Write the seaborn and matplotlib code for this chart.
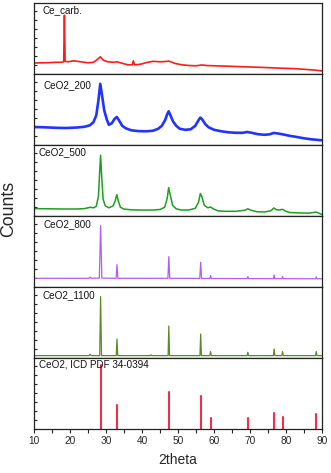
import numpy as np
import pandas as pd
import matplotlib
matplotlib.use("Agg")
import matplotlib.pyplot as plt
from matplotlib.ticker import MultipleLocator
import seaborn as sns

# ---------------- data (arbitrary count units) ----------------
carb_x = [10, 12, 14, 16, 17.5, 18.25, 18.45, 18.65, 19.5, 21, 23, 25, 26.5, 27.5, 28.4, 29.3, 30.5,
          32, 33, 34.5, 36, 37.3, 37.6, 37.9, 39.5, 41, 43, 45, 46.5, 47.5, 49, 51, 53, 55, 56.5,
          58, 60, 63, 66, 70, 74, 78, 82, 85, 88, 90]
carb_y = [11.3, 11.5, 11.6, 12, 12, 12.5, 59, 13, 12.5, 13.5, 12.5, 11.5, 12, 14.5, 17.5, 14, 12.5,
          12, 12.5, 11, 9.5, 9.5, 13.5, 9.5, 10, 11.5, 13, 12.5, 12.8, 13.2, 11, 9.5, 8.8, 8.5, 9.3,
          8.8, 8.5, 8.2, 7.8, 7.3, 6.8, 6.2, 5.7, 5.0, 4.2, 3.3]

c200_x = [10, 13, 16, 19, 22, 24, 25.5, 26.5, 27.3, 27.9, 28.4, 28.9, 29.5, 30.2, 30.8, 31.6, 32.4,
          33.0, 33.6, 34.5, 35.5, 37, 39, 41, 43, 44.5, 45.5, 46.4, 47.0, 47.4, 47.9, 48.6, 49.5, 50.5,
          52, 53.5, 54.8, 55.6, 56.2, 56.7, 57.5, 58.5, 60, 62, 64, 66, 68, 69.2, 70.5, 72, 74, 75.5,
          76.5, 77.5, 79, 81, 83, 85, 87, 90]
c200_y = [18.3, 18, 17.5, 17.3, 17.8, 18.5, 20, 23, 30, 45, 61.5, 50, 35, 26, 20.5, 22, 26.5,
          28.3, 25, 19.5, 17, 15, 14.2, 14, 14.5, 16.5, 19.5, 25, 31, 34, 30, 24, 19.5, 16.5,
          15.5, 16, 19.5, 24.5, 27.7, 26, 21.5, 18, 15.5, 14, 13, 12.5, 12.5, 13.3, 12.5, 11.2, 10.5, 11,
          12.3, 12, 11, 9.5, 8.3, 7, 6, 5]

c500_x = [10, 14, 18, 22, 24, 25.6, 26.5, 27.3, 27.9, 28.25, 28.5, 28.8, 29.2, 29.8, 30.8, 32.0, 32.6,
          33.0, 33.4, 34.0, 35, 37, 40, 43, 45, 46.3, 47.0, 47.4, 47.8, 48.5, 49.5, 51, 53, 54.8, 55.7,
          56.2, 56.6, 57.3, 58.3, 59.0, 59.8, 61, 63, 66, 68.5, 69.4, 70.3, 72, 74, 75.8, 76.6, 77.4,
          78.3, 79.0, 79.7, 81, 84, 86.5, 88.4, 89.3, 90]
c500_y = [7.7, 7.5, 7.3, 7.3, 7.7, 9, 8.5, 10, 20, 45, 61, 40, 17, 10.5, 8.5, 10.5, 16,
          21.7, 15.5, 9, 7.2, 6.5, 6.2, 6.3, 6.8, 9, 18, 28.7, 22, 11, 7.5, 6.2, 6.3, 8, 14,
          22.7, 20, 11, 8.5, 9.3, 7.5, 5.5, 5, 5, 6, 7.5, 6, 4.5, 4.3, 5.5, 8.3, 6.5,
          6.3, 7, 5.5, 3.8, 3.3, 3.2, 4.2, 2.8, 1.8]

c800_x = [10, 20, 25.3, 25.6, 25.9, 28.15, 28.5, 28.85, 32.8, 33.05, 33.3, 42, 47.2, 47.45, 47.7,
          56.05, 56.3, 56.55, 58.85, 59.05, 59.25, 69.2, 69.4, 69.6, 76.5, 76.7, 76.9,
          78.85, 79.05, 79.25, 88.2, 88.4, 88.6, 90]
c800_y = [9, 9, 9, 10.3, 9, 9.2, 61.7, 9.2, 9, 22.7, 9, 9, 9, 30.7, 9,
          8.9, 25, 8.9, 8.8, 11.7, 8.8, 8.7, 10.7, 8.7, 8.6, 12.3, 8.6,
          8.6, 10.7, 8.6, 8.5, 10.3, 8.5, 8.5]

c1100_x = [10, 20, 25.3, 25.6, 25.9, 28.25, 28.5, 28.75, 32.85, 33.05, 33.25, 42.3, 42.5, 42.7,
           47.25, 47.45, 47.65, 56.1, 56.3, 56.5, 58.85, 59.05, 59.25, 69.2, 69.4, 69.6,
           76.5, 76.7, 76.9, 78.85, 79.05, 79.25, 88.2, 88.4, 88.6, 90]
c1100_y = [2.7, 2.7, 2.7, 4, 2.7, 2.7, 61.7, 2.7, 2.7, 19.3, 2.7, 2.7, 3.5, 2.7,
           2.7, 32.3, 2.7, 2.7, 24.3, 2.7, 2.7, 6.7, 2.7, 2.7, 6, 2.7,
           2.7, 9.3, 2.7, 2.7, 6.7, 2.7, 2.7, 6.7, 2.7, 2.7]

ref_pos = [28.55, 33.08, 47.48, 56.34, 59.09, 69.40, 76.70, 79.07, 88.41]
ref_int = [64, 24, 37, 33, 11.6, 11.6, 16.6, 12, 15]

labels = ["Ce_carb.", "CeO2_200", "CeO2_500", "CeO2_800", "CeO2_1100", "CeO2, ICD PDF 34-0394"]
x_ticks = [10, 20, 30, 40, 50, 60, 70, 80, 90]

# ---------------- style ----------------
sns.set_style("white")
plt.rcParams["font.family"] = ["Liberation Sans", "DejaVu Sans"]
plt.rcParams["axes.linewidth"] = 0.9
plt.rcParams["axes.edgecolor"] = "#222222"

W, H = 331, 473
fig, axes = plt.subplots(6, 1, figsize=(W / 100, H / 100), dpi=100, sharex=True,
                         gridspec_kw=dict(hspace=0))
fig.subplots_adjust(left=34 / W, right=322 / W, top=1 - 3.3 / H, bottom=1 - 429.3 / H)

series = [
    (carb_x, carb_y, "#ff1c1c", 1.2),
    (c200_x, c200_y, "#2233ff", 1.9),
    (c500_x, c500_y, "#1f9e1f", 1.1),
    (c800_x, c800_y, "#b35cf0", 0.9),
    (c1100_x, c1100_y, "#5b8a22", 0.9),
]

for ax, (xs, ys, col, lw) in zip(axes[:5], series):
    df = pd.DataFrame({"x": xs, "y": ys})
    sns.lineplot(data=df, x="x", y="y", ax=ax, color=col, lw=lw, estimator=None, sort=False)

# reference sticks
stick_df = pd.DataFrame({
    "x": [p for p in ref_pos for _ in range(2)],
    "y": [v for h in ref_int for v in (0, h)],
    "id": [i for i in range(len(ref_pos)) for _ in range(2)],
})
sns.lineplot(data=stick_df, x="x", y="y", units="id", estimator=None, ax=axes[5],
             color="#f52c4c", lw=1.5, sort=False)

label_pos = [(0.031, 0.906), (0.032, 0.845), (0.017, 0.897), (0.032, 0.887), (0.03, 0.887), (0.017, 0.915)]
for ax, lab, (lx, ly) in zip(axes, labels, label_pos):
    ax.set_xlim(10, 90)
    ax.set_ylim(0, 71)
    ax.set_xlabel("")
    ax.set_ylabel("")
    ax.yaxis.set_major_locator(MultipleLocator(9))
    ax.tick_params(axis="y", which="both", direction="in", left=True, right=False,
                   labelleft=False, length=2.5, width=0.8, color="#222222")
    ax.tick_params(axis="x", which="both", bottom=False, top=False, labelbottom=False)
    ax.text(lx, ly, lab, transform=ax.transAxes, ha="left", va="center", fontsize=7.1, color="#111111")

axb = axes[5]
axb.set_xticks(x_ticks)
axb.xaxis.set_minor_locator(MultipleLocator(5))
axb.tick_params(axis="x", which="both", bottom=True, labelbottom=True, direction="out",
                length=3, width=0.8, labelsize=7.3, pad=2, color="#222222")
axb.set_xlabel("2theta", fontsize=10, labelpad=5)
fig.text(9 / W, 1 - 209 / H, "Counts", rotation=90, ha="center", va="center", fontsize=12.8)

fig.savefig("out.png", dpi=100)
